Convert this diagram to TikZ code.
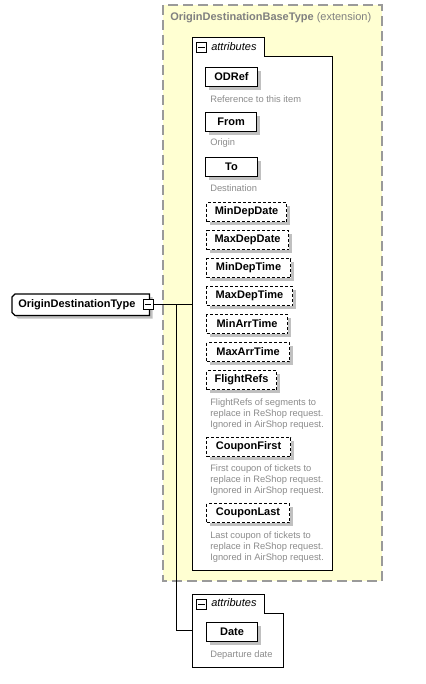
\documentclass[tikz,border=0pt]{standalone}
\usepackage{fontspec}
\setmainfont{Liberation Sans}
\usetikzlibrary{shadows}
\definecolor{extfill}{HTML}{FFFFD2}
\definecolor{extline}{HTML}{9A9A9A}
\definecolor{shadowgray}{HTML}{C0C0C0}
\definecolor{descgray}{HTML}{8C8C8C}
\definecolor{titlegray}{HTML}{808080}
\tikzset{
  elem/.style={draw=black,fill=white,line width=0.8pt,anchor=north west,
    minimum height=14.25pt,inner sep=0pt,font=\fontsize{8.25}{10}\selectfont\bfseries,
    general shadow={fill=shadowgray,draw=none,shadow xshift=2.25pt,shadow yshift=-2.25pt}},
  optelem/.style={elem,dash pattern=on 2.25pt off 1.5pt},
  desc/.style={anchor=west,align=left,inner sep=0pt,text=descgray,
    font=\fontsize{7}{8.25}\selectfont},
  toggle/.style={draw=black,fill=white,line width=0.75pt,minimum size=7.5pt,inner sep=0pt,
    path picture={\draw[line width=0.75pt] ([xshift=1.3pt]path picture bounding box.west)
      -- ([xshift=-1.3pt]path picture bounding box.east);}},
  grouplabel/.style={anchor=west,inner sep=0pt,font=\fontsize{8.25}{10}\selectfont\itshape},
  link/.style={draw=black,line width=0.75pt},
}
\begin{document}
\begin{tikzpicture}[x=0.75pt,y=-0.75pt]
  \useasboundingbox (0,0) rectangle (425,684);
  % extension of the base type
  \draw[fill=extfill,draw=extline,line width=1pt,dash pattern=on 7.5pt off 3.75pt] (163,5) rectangle (382,581);
  \node[anchor=west,inner sep=0pt,text=titlegray,font=\fontsize{8.25}{10}\selectfont] (baseTitle) at (170,18)
    {\textbf{OriginDestinationBaseType} (extension)};

  % attribute groups
  \draw[fill=white,line width=0.75pt] (192,38) -- (264,38) -- (264,57) -- (332,57) -- (332,570) -- (192,570) -- cycle;
  \draw[fill=white,line width=0.75pt] (192,594) -- (264,594) -- (264,613) -- (283,613) -- (283,667) -- (192,667) -- cycle;
  \node[toggle] (grpOneToggle) at (201.5,48) {};
  \node[grouplabel] (grpOneLabel) at (211,47) {attributes};
  \node[toggle] (grpTwoToggle) at (201.5,604) {};
  \node[grouplabel] (grpTwoLabel) at (211,603) {attributes};
  \coordinate (grpOneIn) at (192,304);
  \coordinate (grpTwoIn) at (192,630);

  % main element
  \node[anchor=north west,minimum width=102.75pt,minimum height=15.75pt,inner sep=0pt] (odType) at (12,294) {};
  \fill[shadowgray] ([shift={(3,3)}]odType.north east) -- ([shift={(3,3)}]odType.south east)
    -- ([shift={(6,3)}]odType.south west) -- ([shift={(3,0)}]odType.south west) -- cycle;
  \draw[fill=white,line width=1pt] ([xshift=2.25pt]odType.north west) -- (odType.north east) -- (odType.south east)
    -- ([xshift=2.25pt]odType.south west) -- ([yshift=2.25pt]odType.south west)
    -- ([yshift=-2.25pt]odType.north west) -- cycle;
  \node[anchor=west,inner sep=0pt,font=\fontsize{8.25}{10}\selectfont\bfseries] (odTypeText) at (18,304.5) {OriginDestinationType};
  \node[toggle] (odToggle) at (148,304) {};

  % connectors
  \coordinate (odSplit) at (176,304);
  \draw[link] (odToggle.east) -- (grpOneIn);
  \draw[link] (odSplit) |- (grpTwoIn);

  % attributes of the base type
  \node[elem,minimum width=39pt] (odRef) at (205,67) {ODRef};
  \node[desc] (odRefDesc) at (210,99) {Reference to this item};
  \node[elem,minimum width=38.25pt] (from) at (205,112) {From};
  \node[desc] (fromDesc) at (210,143) {Origin};
  \node[elem,minimum width=39pt] (to) at (205,157) {To};
  \node[desc] (toDesc) at (210,188) {Destination};
  \node[optelem,minimum width=60pt] (minDepDate) at (206,202) {MinDepDate};
  \node[optelem,minimum width=61.5pt] (maxDepDate) at (206,230) {MaxDepDate};
  \node[optelem,minimum width=63pt] (minDepTime) at (206,258) {MinDepTime};
  \node[optelem,minimum width=64.5pt] (maxDepTime) at (206,286) {MaxDepTime};
  \node[optelem,minimum width=60.75pt] (minArrTime) at (206,314) {MinArrTime};
  \node[optelem,minimum width=62.25pt] (maxArrTime) at (206,342) {MaxArrTime};
  \node[optelem,minimum width=52.5pt] (flightRefs) at (206,370) {FlightRefs};
  \node[desc] (flightRefsDesc) at (210,414) {FlightRefs of segments to\\replace in ReShop request.\\Ignored in AirShop request.};
  \node[optelem,minimum width=63pt] (couponFirst) at (206,437) {CouponFirst};
  \node[desc] (couponFirstDesc) at (210,480) {First coupon of tickets to\\replace in ReShop request.\\Ignored in AirShop request.};
  \node[optelem,minimum width=62.25pt] (couponLast) at (206,503) {CouponLast};
  \node[desc] (couponLastDesc) at (210,547) {Last coupon of tickets to\\replace in ReShop request.\\Ignored in AirShop request.};

  % own attribute
  \node[elem,minimum width=38.25pt] (date) at (206,622) {Date};
  \node[desc] (dateDesc) at (210,655) {Departure date};
\end{tikzpicture}
\end{document}
